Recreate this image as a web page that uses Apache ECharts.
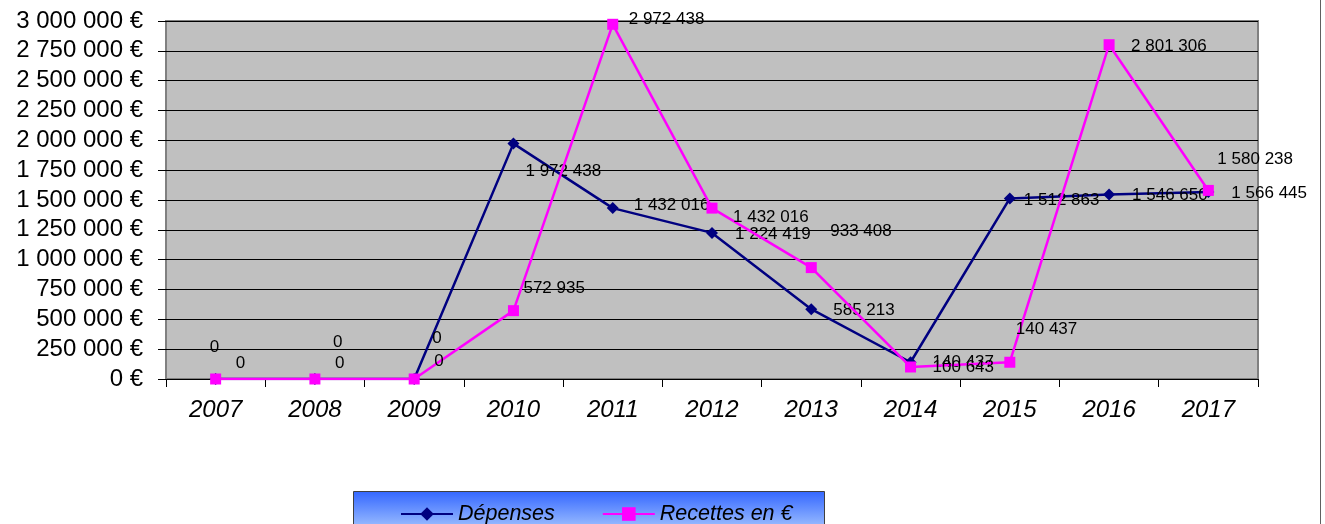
<!DOCTYPE html>
<html>
<head>
<meta charset="utf-8">
<script src="https://cdn.jsdelivr.net/npm/echarts@6/dist/echarts.min.js"></script>
<style>
html,body{margin:0;padding:0;background:#fff;}
#chart{width:1325px;height:524px;}
</style>
</head>
<body>
<div id="chart"></div>
<script>
const categories = ['2007','2008','2009','2010','2011','2012','2013','2014','2015','2016','2017'];
const depenses = [0, 0, 0, 1972438, 1432016, 1224419, 585213, 140437, 1512863, 1546650, 1566445];
const recettes = [0, 0, 0, 572935, 2972438, 1432016, 933408, 100643, 140437, 2801306, 1580238];
const seriesNames = ['Dépenses', 'Recettes en €'];
const yMin = 0, yMax = 3000000, yStep = 250000;

// label offsets (left edge dx, vertical center dy) relative to each point
const depLabelOffsets = [[-6,-32],[18,-37],[18,-41],[12,28],[21,-3],[23,1],[22,1],[22,0],[14,2],[23,1],[23,1]];
const recLabelOffsets = [[20,-16],[20,-16],[20,-18],[10,-22],[16,-5],[21,9],[19,-36],[22,0],[6,-33],[22,2],[9,-31]];

const FONT = "'Liberation Sans', Arial, sans-serif";
function fmt(v){
  return String(Math.round(v)).replace(/\B(?=(\d{3})+(?!\d))/g, ' ');
}
function withLabels(vals, offs){
  return vals.map((v,i)=>({value:v, label:{offset:offs[i]}}));
}
const labelBase = {
  show:true, position:'inside', align:'left', verticalAlign:'middle',
  color:'#000', fontFamily:FONT, fontSize:17, textBorderWidth:0,
  formatter:p=>fmt(p.value)
};

const chart = echarts.init(document.getElementById('chart'), null, {renderer:'canvas'});
chart.setOption({
  animation:false,
  backgroundColor:'#fff',
  grid:{left:166, right:67, top:21, bottom:145, show:true, backgroundColor:'#C0C0C0', borderColor:'#808080', borderWidth:2},
  xAxis:{
    type:'category', data:categories, boundaryGap:true,
    axisLine:{show:true, lineStyle:{color:'#000', width:1}},
    axisTick:{show:true, length:8, lineStyle:{color:'#000'}},
    axisLabel:{color:'#000', fontFamily:FONT, fontSize:24, fontStyle:'italic', margin:19},
    splitLine:{show:false}
  },
  yAxis:{
    type:'value', min:yMin, max:yMax, interval:yStep,
    axisLine:{show:false},
    axisTick:{show:true, length:8, lineStyle:{color:'#000'}},
    axisLabel:{color:'#000', fontFamily:FONT, fontSize:24, margin:23, formatter:v=>fmt(v)+' €'},
    splitLine:{show:true, lineStyle:{color:'#000', width:1}}
  },
  legend:{
    left:395, top:498, itemWidth:52, itemHeight:17, itemGap:47,
    data:seriesNames,
    textStyle:{color:'#000', fontFamily:FONT, fontSize:21.5, fontStyle:'italic'}
  },
  graphic:[
    {type:'rect', left:353, top:491, z:-1, silent:true,
     shape:{width:471, height:40},
     style:{fill:new echarts.graphic.LinearGradient(0,0,0,1,[{offset:0,color:'#3366FF'},{offset:1,color:'#A8C8FF'}]), stroke:'#404040', lineWidth:1}},
    {type:'line', silent:true, shape:{x1:1320.5, y1:0, x2:1320.5, y2:524}, style:{stroke:'#606060', lineWidth:1}}
  ],
  series:[
    {name:seriesNames[0], type:'line', data:withLabels(depenses, depLabelOffsets),
     symbol:'diamond', symbolSize:12, showAllSymbol:true,
     itemStyle:{color:'#000080'}, lineStyle:{color:'#000080', width:2.5},
     label:labelBase, z:2},
    {name:seriesNames[1], type:'line', data:withLabels(recettes, recLabelOffsets),
     symbol:'rect', symbolSize:11, showAllSymbol:true,
     itemStyle:{color:'#FF00FF'}, lineStyle:{color:'#FF00FF', width:2.5},
     label:labelBase, z:3}
  ]
});
</script>
</body>
</html>
